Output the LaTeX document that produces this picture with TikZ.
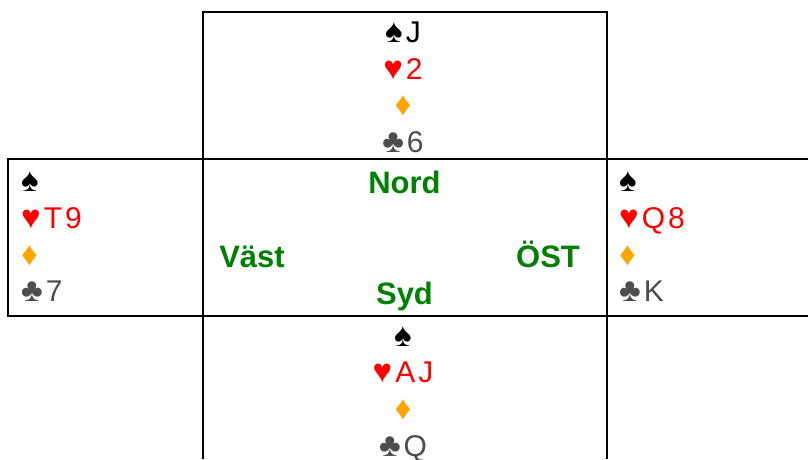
\documentclass[tikz,border=0pt]{standalone}
\usepackage{fontspec}
\setmainfont{Liberation Sans}
\definecolor{spadec}{HTML}{000000}
\definecolor{heartc}{HTML}{FF0000}
\definecolor{diamc}{HTML}{FFA500}
\definecolor{clubc}{HTML}{4D4D4D}
\definecolor{dirc}{HTML}{008000}
\tikzset{
  card/.style={inner sep=0pt, font=\fontsize{30}{30}\selectfont},
  cardW/.style={card, anchor=base west},
  cardC/.style={card, anchor=base},
  dirlab/.style={inner sep=0pt, anchor=base, text=dirc, font=\fontsize{31}{31}\selectfont\bfseries},
  frame/.style={line width=2pt},
}
\newcommand{\ls}{\hspace{3pt}}
\newcommand{\st}[1]{{\fontsize{33}{33}\selectfont #1}}
\begin{document}
\begin{tikzpicture}[x=1pt,y=-1pt]
\useasboundingbox (0,0) rectangle (808,459);
% frames
\draw[frame] (203,459) -- (203,12) -- (607,12) -- (607,459);
\draw[frame] (808,159) -- (8,159) -- (8,316) -- (808,316);
% North
\node[cardC, text=spadec] (n1) at (403,42.5) {\st{♠}\ls J};
\node[cardC, text=heartc] (n2) at (403,79.2) {\st{♥}\ls 2};
\node[cardC, text=diamc] (n3) at (403,115.8) {\st{♦}};
\node[cardC, text=clubc] (n4) at (403,152.5) {\st{♣}\ls 6};
% West
\node[cardW, text=spadec] (w1) at (21,191.6) {\st{♠}};
\node[cardW, text=heartc] (w2) at (21,228.3) {\st{♥}\ls T\ls 9};
\node[cardW, text=diamc] (w3) at (21,265) {\st{♦}};
\node[cardW, text=clubc] (w4) at (21,301.7) {\st{♣}\ls 7};
% East
\node[cardW, text=spadec] (e1) at (619,191.6) {\st{♠}};
\node[cardW, text=heartc] (e2) at (619,228.3) {\st{♥}\ls Q\ls 8};
\node[cardW, text=diamc] (e3) at (619,265) {\st{♦}};
\node[cardW, text=clubc] (e4) at (619,301.7) {\st{♣}\ls K};
% South
\node[cardC, text=spadec] (s1) at (403,346) {\st{♠}};
\node[cardC, text=heartc] (s2) at (403,382.7) {\st{♥}\ls A\ls J};
\node[cardC, text=diamc] (s3) at (403,419.4) {\st{♦}};
\node[cardC, text=clubc] (s4) at (403,456) {\st{♣}\ls Q};
% directions
\node[dirlab] (nord) at (404.5,193.3) {Nord};
\node[dirlab] (vast) at (252,267.5) {Väst};
\node[dirlab] (ost) at (548,267.5) {ÖST};
\node[dirlab] (syd) at (404.5,304) {Syd};
\end{tikzpicture}
\end{document}
